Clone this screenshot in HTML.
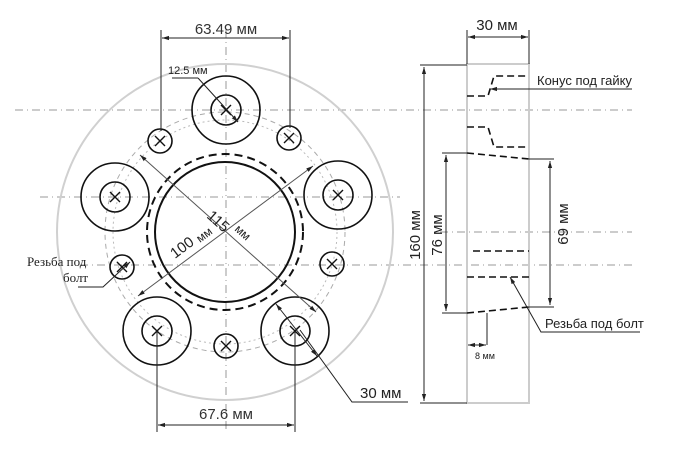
<!DOCTYPE html>
<html><head><meta charset="utf-8"><style>html,body{margin:0;padding:0;background:#fff}svg{display:block}</style></head><body>
<svg width="688" height="453" viewBox="0 0 688 453" xmlns="http://www.w3.org/2000/svg" font-family="Liberation Sans, sans-serif">
<defs>
<marker id="a" viewBox="0 0 10 10" refX="10" refY="5" markerWidth="7" markerHeight="7" orient="auto-start-reverse"><path d="M0,2 L10,5 L0,8z" fill="#222"/></marker>
</defs>
<g stroke="#999" stroke-width="1" stroke-dasharray="8,4,1,4" fill="none">
<line x1="15" y1="110" x2="632" y2="110"/>
<line x1="40" y1="197" x2="400" y2="197"/>
<line x1="440" y1="232" x2="632" y2="232"/>
<line x1="80" y1="265" x2="632" y2="265"/>
<line x1="226" y1="30" x2="226" y2="432"/>
</g>
<circle cx="225" cy="232" r="168" fill="none" stroke="#d0d0d0" stroke-width="2"/>
<circle cx="225" cy="232" r="120" fill="none" stroke="#aaa" stroke-width="1" stroke-dasharray="5,4"/>
<circle cx="225" cy="232" r="112" fill="none" stroke="#bbb" stroke-width="1" stroke-dasharray="2,3"/>
<circle cx="225" cy="232" r="70" fill="none" stroke="#111" stroke-width="2"/>
<circle cx="225" cy="232" r="78" fill="none" stroke="#111" stroke-width="2" stroke-dasharray="8,5"/>
<g fill="none" stroke="#111" stroke-width="1.6">
<circle cx="226" cy="110" r="34"/><circle cx="226" cy="110" r="15"/>
<circle cx="115" cy="197" r="34"/><circle cx="115" cy="197" r="15"/>
<circle cx="338" cy="195" r="34"/><circle cx="338" cy="195" r="15"/>
<circle cx="157" cy="331" r="34"/><circle cx="157" cy="331" r="15"/>
<circle cx="295" cy="331" r="34"/><circle cx="295" cy="331" r="15"/>
<circle cx="160" cy="141" r="12"/><circle cx="289" cy="138" r="12"/>
<circle cx="122" cy="267" r="12"/><circle cx="332" cy="264" r="12"/>
<circle cx="226" cy="346" r="12"/>
</g>
<g stroke="#111" stroke-width="1.4">
<path d="M221,105l10,10M231,105l-10,10"/>
<path d="M110,192l10,10M120,192l-10,10"/>
<path d="M333,190l10,10M343,190l-10,10"/>
<path d="M152,326l10,10M162,326l-10,10"/>
<path d="M290,326l10,10M300,326l-10,10"/>
<path d="M155,136l10,10M165,136l-10,10"/>
<path d="M284,133l10,10M294,133l-10,10"/>
<path d="M117,262l10,10M127,262l-10,10"/>
<path d="M327,259l10,10M337,259l-10,10"/>
<path d="M221,341l10,10M231,341l-10,10"/>
</g>
<g stroke="#555" stroke-width="1">
<line x1="140" y1="155" x2="316" y2="312" marker-start="url(#a)" marker-end="url(#a)"/>
<line x1="138" y1="296" x2="313" y2="166" marker-start="url(#a)" marker-end="url(#a)"/>
</g>
<text x="0" y="0" font-size="15" fill="#222" transform="translate(206,217) rotate(42)">115</text>
<text x="0" y="0" font-size="12" fill="#222" transform="translate(234,230) rotate(42)">мм</text>
<text x="0" y="0" font-size="15" fill="#222" transform="translate(175,259) rotate(-37)">100</text>
<text x="0" y="0" font-size="12" fill="#222" transform="translate(200,243) rotate(-37)">мм</text>
<line x1="172" y1="78" x2="198" y2="78" stroke="#222"/>
<line x1="198" y1="78" x2="238" y2="122" stroke="#222" marker-end="url(#a)"/>
<text x="168" y="74" font-size="11" fill="#222">12.5 мм</text>
<g stroke="#222" stroke-width="1">
<line x1="161" y1="30" x2="161" y2="131"/><line x1="290" y1="30" x2="290" y2="128"/>
<line x1="162" y1="38" x2="289" y2="38" marker-start="url(#a)" marker-end="url(#a)"/>
<line x1="157" y1="331" x2="157" y2="432"/><line x1="295" y1="331" x2="295" y2="432"/>
<line x1="158" y1="425" x2="294" y2="425" marker-start="url(#a)" marker-end="url(#a)"/>
</g>
<text x="226" y="34" font-size="15" fill="#333" text-anchor="middle">63.49 мм</text>
<text x="226" y="419" font-size="15" fill="#333" text-anchor="middle">67.6 мм</text>
<line x1="276" y1="304" x2="317" y2="356" stroke="#222" marker-start="url(#a)" marker-end="url(#a)"/>
<polyline points="300,330 352,402 408,402" fill="none" stroke="#222"/>
<text x="360" y="398" font-size="15" fill="#222">30 мм</text>
<text x="27" y="266" font-size="13" font-family="Liberation Serif, serif" fill="#222">Резьба под</text>
<text x="63" y="282" font-size="13" font-family="Liberation Serif, serif" fill="#222">болт</text>
<polyline points="78,287 103,287 130,262" fill="none" stroke="#222" marker-end="url(#a)"/>
<rect x="467" y="64" width="62" height="339" fill="none" stroke="#ccc" stroke-width="2"/>
<g stroke="#222" stroke-width="1">
<line x1="467" y1="30" x2="467" y2="64"/><line x1="529" y1="30" x2="529" y2="64"/>
<line x1="468" y1="37" x2="528" y2="37" marker-start="url(#a)" marker-end="url(#a)"/>
<line x1="420" y1="65" x2="467" y2="65"/><line x1="420" y1="403" x2="467" y2="403"/>
<line x1="424" y1="67" x2="424" y2="401" marker-start="url(#a)" marker-end="url(#a)"/>
<line x1="442" y1="153" x2="467" y2="153"/><line x1="442" y1="313" x2="467" y2="313"/>
<line x1="446" y1="155" x2="446" y2="311" marker-start="url(#a)" marker-end="url(#a)"/>
<line x1="529" y1="159" x2="554" y2="159"/><line x1="529" y1="307" x2="554" y2="307"/>
<line x1="550" y1="161" x2="550" y2="305" marker-start="url(#a)" marker-end="url(#a)"/>
<line x1="487" y1="313" x2="487" y2="345"/>
<line x1="468" y1="345" x2="486" y2="345" marker-start="url(#a)" marker-end="url(#a)"/>
</g>
<g stroke="#111" stroke-width="1.6" fill="none" stroke-dasharray="7,4">
<polyline points="467,96 488,96 494,76 529,76"/>
<polyline points="467,127 488,127 494,147 529,147"/>
<polyline points="467,153 529,159"/>
<polyline points="467,313 529,307"/>
<line x1="473" y1="251" x2="529" y2="251"/>
<line x1="467" y1="277" x2="529" y2="277"/>
</g>
<line x1="632" y1="89" x2="490" y2="89" stroke="#222" marker-end="url(#a)"/>
<text x="537" y="85" font-size="13" fill="#222">Конус под гайку</text>
<polyline points="640,332 541,332 510,277" fill="none" stroke="#222" marker-end="url(#a)"/>
<text x="545" y="328" font-size="13" fill="#222">Резьба под болт</text>
<text x="475" y="359" font-size="9" fill="#222">8 мм</text>
<text x="497" y="30" font-size="15" fill="#222" text-anchor="middle">30 мм</text>
<text transform="translate(420,235) rotate(-90)" font-size="15" fill="#222" text-anchor="middle">160 мм</text>
<text transform="translate(442,235) rotate(-90)" font-size="15" fill="#222" text-anchor="middle">76 мм</text>
<text transform="translate(568,224) rotate(-90)" font-size="15" fill="#222" text-anchor="middle">69 мм</text>
</svg>
</body></html>
